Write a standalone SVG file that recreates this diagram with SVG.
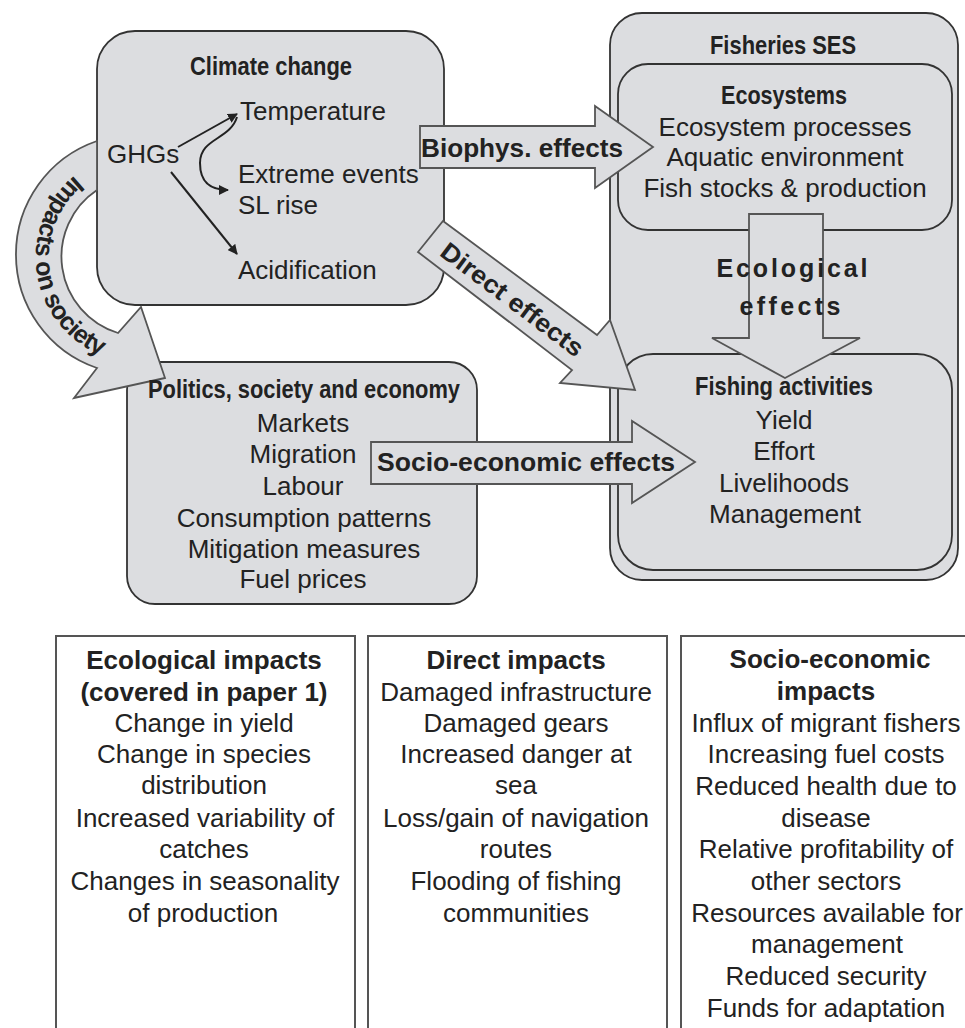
<svg xmlns="http://www.w3.org/2000/svg" width="965" height="1028" viewBox="0 0 965 1028">
<style>
.box{fill:#dcdde0;stroke:#333;stroke-width:1.8}
.blk{fill:#dcdde0;stroke:#555;stroke-width:1.8;stroke-linejoin:miter}
.tbl{fill:#fff;stroke:#555;stroke-width:2}
.ln{fill:none;stroke:#222;stroke-width:2}
text{font-family:"Liberation Sans",Arial,sans-serif;fill:#222}
.t{font-size:26px;text-anchor:middle}
.tl{font-size:26px}
.b{font-size:26px;font-weight:bold;text-anchor:middle}
.n{font-family:"Liberation Sans Narrow","Liberation Sans",Arial,sans-serif;font-size:25px;font-weight:bold;text-anchor:middle}
.lab{font-size:25px;font-weight:bold}
</style>
<defs>
<marker id="ah" viewBox="0 0 10 10" refX="9" refY="5" markerWidth="5" markerHeight="5" orient="auto" markerUnits="strokeWidth">
<path d="M0,0 L10,5 L0,10 Z" fill="#222"/>
</marker>
<path id="arcText" d="M90,165 A106,106 0 0 0 105,357"/>
</defs>
<rect width="965" height="1028" fill="#fff"/>

<g id="fisheries-ses">
<rect class="box" x="610" y="13" width="348" height="567" rx="32"/>
<text class="n" x="783" y="54" textLength="146" lengthAdjust="spacingAndGlyphs">Fisheries SES</text>
</g>
<g id="ecosystems">
<rect class="box" x="618" y="64" width="334" height="166" rx="30"/>
<text class="n" x="784" y="104" textLength="126" lengthAdjust="spacingAndGlyphs">Ecosystems</text>
<text class="t" x="785" y="136">Ecosystem processes</text>
<text class="t" x="785" y="166">Aquatic environment</text>
<text class="t" x="785" y="197">Fish stocks &amp; production</text>
</g>
<g id="fishing-activities">
<rect class="box" x="618" y="354" width="334" height="216" rx="35"/>
</g>

<g id="climate-change">
<rect class="box" x="97" y="31" width="347" height="274" rx="38"/>
<text class="n" x="271" y="75" textLength="162" lengthAdjust="spacingAndGlyphs">Climate change</text>
<text class="tl" x="107" y="163">GHGs</text>
<text class="tl" x="240" y="120">Temperature</text>
<text class="tl" x="238" y="183">Extreme events</text>
<text class="tl" x="238" y="214">SL rise</text>
<text class="tl" x="238" y="279">Acidification</text>
<line class="ln" x1="178" y1="147" x2="237" y2="114" marker-end="url(#ah)"/>
<line class="ln" x1="171" y1="172" x2="237" y2="254" marker-end="url(#ah)"/>
<path class="ln" d="M237,117 C230,140 200,138 200,163 C200,184 212,190 228,190" marker-end="url(#ah)"/>
</g>

<g id="politics-society-economy">
<rect class="box" x="127" y="362" width="350" height="242" rx="28"/>
</g>

<g id="connectors">
<path class="blk" d="M97,141 A120,120 0 0 0 97,368 L74,398 L165,378 L141,307 L118,333 A80,80 0 0 1 97,190 Z"/>
<text class="lab" font-size="22"><textPath href="#arcText" startOffset="53%" text-anchor="middle" textLength="218" lengthAdjust="spacing">Impacts on society</textPath></text>
<polygon class="blk" points="420,126 595,126 595,106 653,147 595,188 595,168 420,168"/>
<text class="lab" x="421" y="157" textLength="202" lengthAdjust="spacingAndGlyphs">Biophys. effects</text>
<polygon class="blk" points="443,221 597,335 610,320 635,390 560,383 572,370 418,252"/>
<text class="lab" font-size="23" text-anchor="middle" transform="translate(512,300) rotate(37)" x="0" y="8" textLength="172" lengthAdjust="spacingAndGlyphs">Direct effects</text>
<polygon class="blk" points="371,442 632,442 632,421 695,462 632,503 632,484 371,484"/>
<text class="lab" x="377" y="471" textLength="298" lengthAdjust="spacingAndGlyphs">Socio-economic effects</text>
<polygon class="blk" points="749,214 823,214 823,338 860,338 785,378 712,338 749,338"/>
<text class="lab" x="792" y="277" text-anchor="middle" textLength="151" lengthAdjust="spacing">Ecological</text>
<text class="lab" x="790" y="315" text-anchor="middle" textLength="101" lengthAdjust="spacing">effects</text>
</g>

<g id="politics-text">
<text class="n" x="304" y="398" textLength="312" lengthAdjust="spacingAndGlyphs">Politics, society and economy</text>
<text class="t" x="303" y="432">Markets</text>
<text class="t" x="303" y="463">Migration</text>
<text class="t" x="303" y="495">Labour</text>
<text class="t" x="304" y="527">Consumption patterns</text>
<text class="t" x="304" y="558">Mitigation measures</text>
<text class="t" x="303" y="588">Fuel prices</text>
</g>
<g id="fishing-text">
<text class="n" x="784" y="395" textLength="178" lengthAdjust="spacingAndGlyphs">Fishing activities</text>
<text class="t" x="784" y="429">Yield</text>
<text class="t" x="784" y="460">Effort</text>
<text class="t" x="784" y="492">Livelihoods</text>
<text class="t" x="785" y="523">Management</text>
</g>

<g id="ecological-impacts">
<rect class="tbl" x="56" y="636" width="299" height="420"/>
<text class="b" x="204" y="669">Ecological impacts</text>
<text class="b" x="204" y="701">(covered in paper 1)</text>
<text class="t" x="204" y="732">Change in yield</text>
<text class="t" x="204" y="763">Change in species</text>
<text class="t" x="204" y="794">distribution</text>
<text class="t" x="205" y="827">Increased variability of</text>
<text class="t" x="204" y="858">catches</text>
<text class="t" x="205" y="890">Changes in seasonality</text>
<text class="t" x="203" y="922">of production</text>
</g>
<g id="direct-impacts">
<rect class="tbl" x="368" y="636" width="299" height="420"/>
<text class="b" x="516" y="669">Direct impacts</text>
<text class="t" x="516" y="701">Damaged infrastructure</text>
<text class="t" x="516" y="732">Damaged gears</text>
<text class="t" x="516" y="763">Increased danger at</text>
<text class="t" x="516" y="794">sea</text>
<text class="t" x="516" y="827">Loss/gain of navigation</text>
<text class="t" x="516" y="858">routes</text>
<text class="t" x="516" y="890">Flooding of fishing</text>
<text class="t" x="516" y="922">communities</text>
</g>
<g id="socio-economic-impacts">
<rect class="tbl" x="681" y="636" width="300" height="420"/>
<text class="b" x="830" y="668">Socio-economic</text>
<text class="b" x="826" y="700">impacts</text>
<text class="t" x="826" y="732">Influx of migrant fishers</text>
<text class="t" x="826" y="763">Increasing fuel costs</text>
<text class="t" x="826" y="795">Reduced health due to</text>
<text class="t" x="826" y="827">disease</text>
<text class="t" x="826" y="858">Relative profitability of</text>
<text class="t" x="826" y="890">other sectors</text>
<text class="t" x="827" y="922">Resources available for</text>
<text class="t" x="827" y="953">management</text>
<text class="t" x="826" y="985">Reduced security</text>
<text class="t" x="826" y="1017">Funds for adaptation</text>
</g>
</svg>
